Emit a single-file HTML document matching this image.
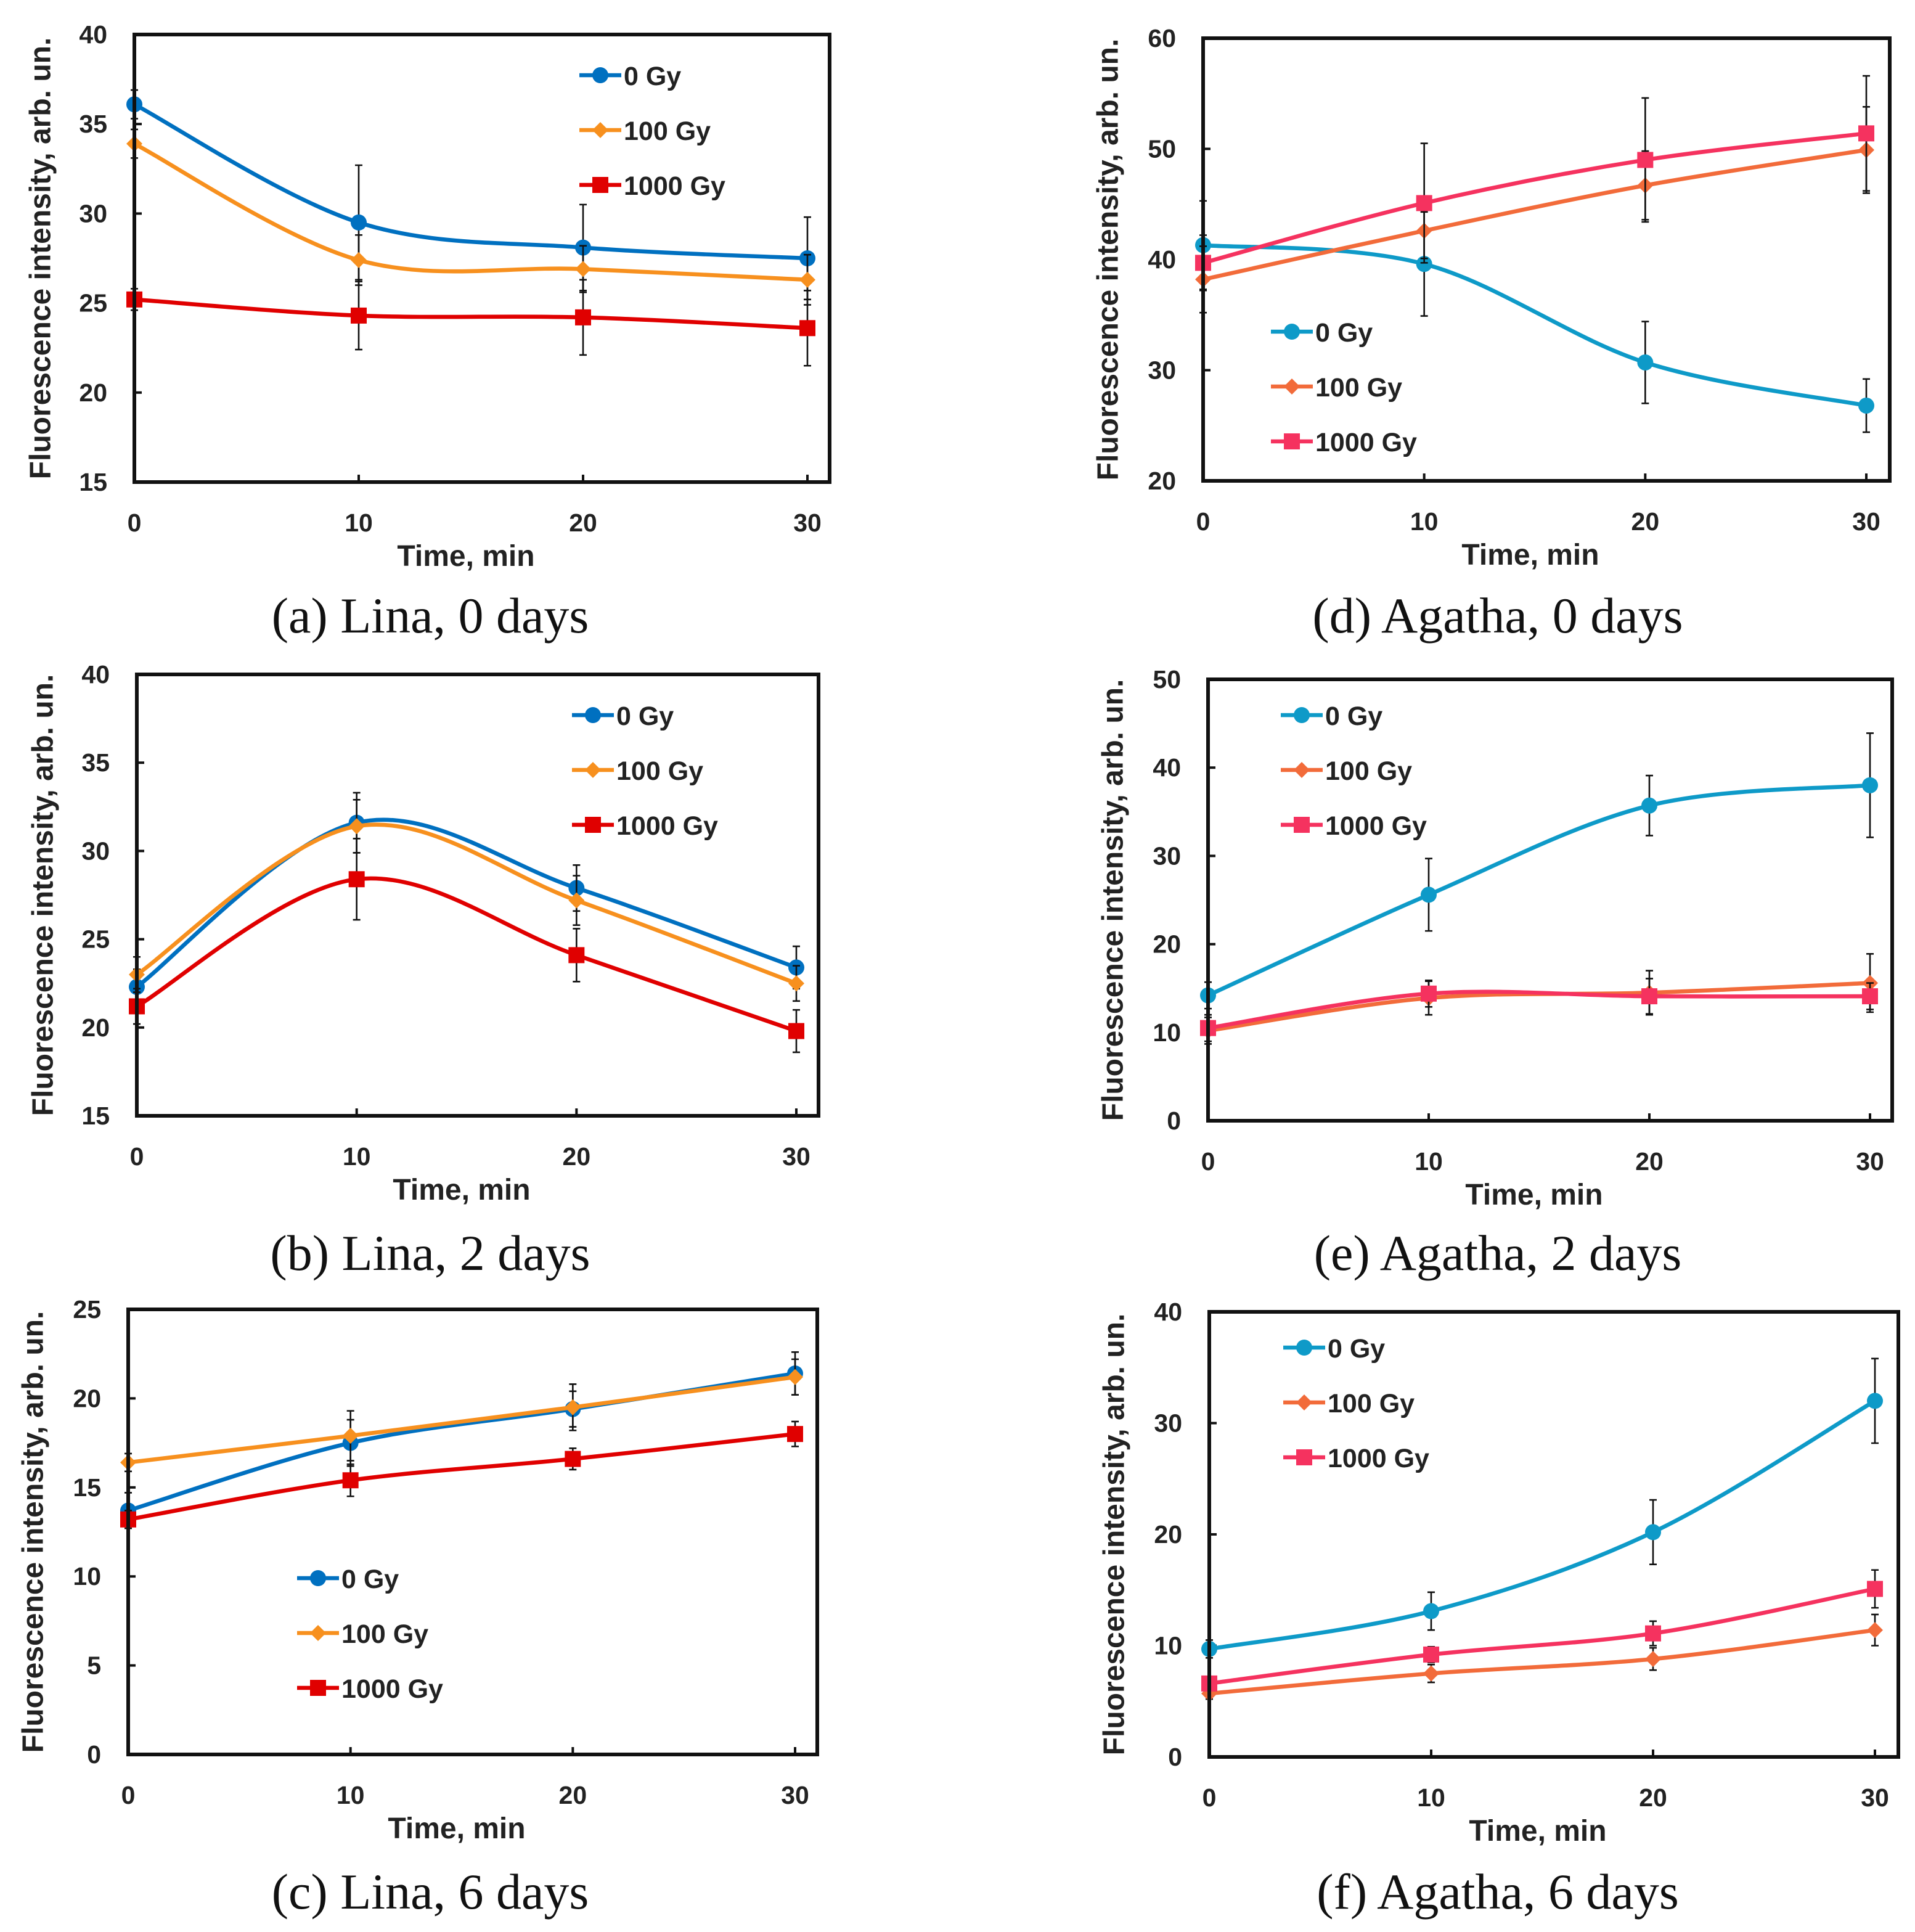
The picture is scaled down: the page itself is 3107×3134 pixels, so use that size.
<!DOCTYPE html>
<html><head><meta charset="utf-8"><style>
html,body{margin:0;padding:0;background:#fff}
svg{display:block}
text{font-family:"Liberation Sans",sans-serif}
.tk{font-size:20.5px;font-weight:bold;fill:#222}
.at{font-size:24px;font-weight:bold;fill:#222}
.lg{font-size:21.5px;font-weight:bold;fill:#222}
.cap{font-family:"Liberation Serif",serif;font-size:41px;fill:#111}
</style></head><body>
<svg id="fig" width="3107" height="3134" viewBox="0 0 1553.5 1567" xmlns="http://www.w3.org/2000/svg"></svg>
<script>
// Data per panel
const times = [0, 10, 20, 30];
const seriesNames = ["0 Gy", "100 Gy", "1000 Gy"];
const aVals = [[36.1,29.5,28.1,27.5],[33.9,27.4,26.9,26.3],[25.2,24.3,24.2,23.6]];
const aErr  = [[0.8,3.2,2.4,2.3],[0.8,1.4,1.3,1.4],[0.6,1.9,2.1,2.1]];
const bVals = [[22.3,31.6,27.9,23.4],[23.0,31.4,27.2,22.5],[21.2,28.4,24.1,19.8]];
const bErr  = [[1.0,1.7,1.3,1.2],[1.0,1.5,1.4,1.0],[1.0,2.3,1.5,1.2]];
const cVals = [[13.7,17.5,19.4,21.4],[16.4,17.9,19.5,21.2],[13.2,15.4,16.6,18.0]];
const cErr  = [[1.0,1.3,1.0,1.2],[0.5,1.4,1.3,1.0],[0.5,0.9,0.6,0.7]];
const dVals = [[41.3,39.6,30.7,26.8],[38.2,42.6,46.7,49.9],[39.7,45.1,49.0,51.4]];
const dErr  = [[4.0,4.7,3.7,2.4],[3.0,2.5,3.1,3.9],[2.5,5.4,5.6,5.2]];
const eVals = [[14.2,25.6,35.7,38.0],[10.2,13.9,14.5,15.6],[10.5,14.4,14.1,14.1]];
const eErr  = [[1.5,4.1,3.4,5.9],[1.5,1.9,2.5,3.3],[1.5,1.5,2.0,1.5]];
const fVals = [[9.7,13.1,20.2,32.0],[5.7,7.5,8.8,11.4],[6.6,9.2,11.1,15.1]];
const fErr  = [[0.8,1.7,2.9,3.8],[0.5,0.8,1.0,1.4],[0.5,0.7,1.1,1.7]];
const aTicks=[15,20,25,30,35,40], bTicks=[15,20,25,30,35,40], cTicks=[0,5,10,15,20,25];
const dTicks=[20,30,40,50,60], eTicks=[0,10,20,30,40,50], fTicks=[0,10,20,30,40];
const captions=["(a) Lina, 0 days","(b) Lina, 2 days","(c) Lina, 6 days","(d) Agatha, 0 days","(e) Agatha, 2 days","(f) Agatha, 6 days"];

const leftCols=["#0070C0","#F7901E","#E00000"];
const rightCols=["#0E9AC8","#F26B3A","#F5325F"];
const markers=["circle","diamond","square"];
const panels=[
 {id:"a",vals:aVals,err:aErr,ticks:aTicks,box:[109,28,673,391],x0:109,x30:655,lg:[470,61],cols:leftCols,ytx:33,cap:[349,500]},
 {id:"b",vals:bVals,err:bErr,ticks:bTicks,box:[111,547,664,905],x0:111,x30:646,lg:[464,580],cols:leftCols,ytx:35,cap:[349,1017]},
 {id:"c",vals:cVals,err:cErr,ticks:cTicks,box:[104,1062,663,1423],x0:104,x30:645,lg:[241,1280],cols:leftCols,ytx:27,cap:[349,1535]},
 {id:"d",vals:dVals,err:dErr,ticks:dTicks,box:[976,31,1533,390],x0:976,x30:1514,lg:[1031,269],cols:rightCols,ytx:899,cap:[1215,500]},
 {id:"e",vals:eVals,err:eErr,ticks:eTicks,box:[980,551,1535,909],x0:980,x30:1517,lg:[1039,580],cols:rightCols,ytx:903,cap:[1215,1017]},
 {id:"f",vals:fVals,err:fErr,ticks:fTicks,box:[981,1064,1540,1425],x0:981,x30:1521,lg:[1041,1093],cols:rightCols,ytx:904,cap:[1215,1535]}
];
const NS="http://www.w3.org/2000/svg", svg=document.getElementById("fig");
function mk(tag,attrs,parent,txt){const e=document.createElementNS(NS,tag);for(const k in attrs)e.setAttribute(k,attrs[k]);if(txt!==undefined)e.textContent=txt;(parent||svg).appendChild(e);return e;}
function marker(g,type,x,y,c){
 let e;
 if(type==="circle")e=mk("circle",{cx:x,cy:y,r:6.5,fill:c},g);
 else if(type==="diamond")e=mk("polygon",{points:`${x},${y-6.5} ${x+6.5},${y} ${x},${y+6.5} ${x-6.5},${y}`,fill:c},g);
 else e=mk("rect",{x:x-6.5,y:y-6.5,width:13,height:13,fill:c},g);
 return e;
}
panels.forEach((p,pi)=>{
 const g=mk("g",{});
 
 
 const [L,T,R,B]=p.box, ymin=p.ticks[0], ymax=p.ticks[p.ticks.length-1];
 const sx=t=>p.x0+(p.x30-p.x0)*t/30;
 const sy=v=>B-(B-T)*(v-ymin)/(ymax-ymin);
 p.ticks.forEach(t=>{
  const tl=mk("text",{x:L-22,y:sy(t)+7,"text-anchor":"end",class:"tk"},g,String(t));
  
  
  mk("line",{x1:L,x2:L+6,y1:sy(t),y2:sy(t),stroke:"#111","stroke-width":2},g);
 });
 times.forEach(t=>{
  const tl=mk("text",{x:sx(t),y:B+40,"text-anchor":"middle",class:"tk"},g,String(t));
  
  
  mk("line",{x1:sx(t),x2:sx(t),y1:B,y2:B-6,stroke:"#111","stroke-width":2},g);
 });
 const xt=mk("text",{x:(L+R)/2-13,y:B+68,"text-anchor":"middle",class:"at"},g,"Time, min");
 
 
 const cy=(T+B)/2;
 const yt=mk("text",{x:p.ytx,y:cy,transform:`rotate(-90 ${p.ytx} ${cy})`,"text-anchor":"middle",class:"at","dominant-baseline":"central"},g,"Fluorescence intensity, arb. un.");
 
 
 p.vals.forEach((vals,si)=>{
  const c=p.cols[si];
  const sg=mk("g",{},g);
  
  
  const pts=vals.map((v,i)=>[sx(times[i]),sy(v)]);
  let d=`M${pts[0][0]},${pts[0][1]}`;
  for(let i=0;i<pts.length-1;i++){
   const p0=pts[Math.max(0,i-1)],p1=pts[i],p2=pts[i+1],p3=pts[Math.min(pts.length-1,i+2)];
   const c1=[p1[0]+(p2[0]-p0[0])/6,p1[1]+(p2[1]-p0[1])/6];
   const c2=[p2[0]-(p3[0]-p1[0])/6,p2[1]-(p3[1]-p1[1])/6];
   d+=` C${c1[0]},${c1[1]} ${c2[0]},${c2[1]} ${p2[0]},${p2[1]}`;
  }
  const ln=mk("path",{d:d,fill:"none",stroke:c,"stroke-width":3.3},sg);
  
  
  vals.forEach((v,i)=>{
   const x=sx(times[i]),e=p.err[si][i];
   const eb=mk("path",{d:`M${x},${sy(v+e)}V${sy(v-e)}M${x-3},${sy(v+e)}h6M${x-3},${sy(v-e)}h6`,stroke:"#111","stroke-width":1.3,fill:"none"},sg);
   
   
  });
  vals.forEach((v,i)=>{
   const m=marker(sg,markers[si],sx(times[i]),sy(v),c);
   
   
  });
  const lx=p.lg[0], ly=p.lg[1]+si*44.5;
  const le=mk("g",{},g);
  
  
  mk("line",{x1:lx,x2:lx+34,y1:ly,y2:ly,stroke:c,"stroke-width":3.3},le);
  marker(le,markers[si],lx+17,ly,c);
  mk("text",{x:lx+36,y:ly+8,class:"lg"},le,seriesNames[si]);
 });
 const bx=mk("rect",{x:L,y:T,width:R-L,height:B-T,fill:"none",stroke:"#111","stroke-width":3},g);
 
 
 const cp=mk("text",{x:p.cap[0],y:p.cap[1]+13,"text-anchor":"middle",class:"cap"},g,captions[pi]);
 
 
});
</script>
</body></html>
